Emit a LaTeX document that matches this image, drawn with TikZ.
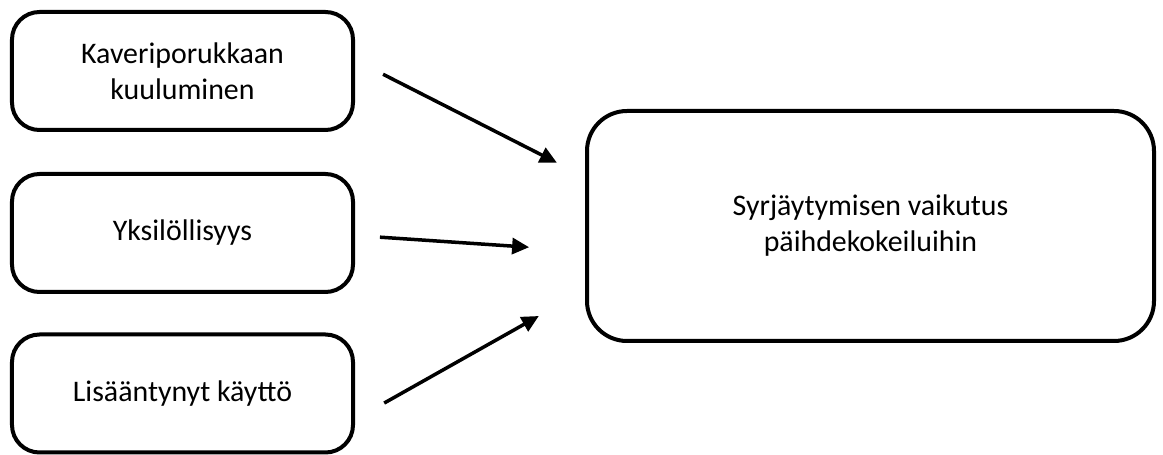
\documentclass[tikz,border=0pt]{standalone}
\usepackage{fontspec}
\setmainfont{Carlito}
\usetikzlibrary{arrows.meta}
\begin{document}
\begin{tikzpicture}[
        box/.style={rectangle, rounded corners=0.55cm, draw, line width=0.08cm, minimum width=6.82cm, minimum height=2.36cm, align=center, font=\fontsize{17}{20.5}\selectfont},
        bigbox/.style={box, rounded corners=0.8cm, minimum width=11.34cm, minimum height=4.6cm},
        arrow/.style={-{Triangle[length=0.34cm, width=0.32cm]}, line width=0.07cm}
    ]
    \useasboundingbox (0,0) rectangle (23.26,-9.1);

    % Factors
    \node[box] (friends) at (3.65,-1.42) {Kaveriporukkaan\\kuuluminen};
    \node[box] (individ) at (3.65,-4.66) {Yksilöllisyys};
    \node[box] (usage) at (3.65,-7.87) {Lisääntynyt käyttö};

    % Outcome
    \node[bigbox] (effect) at (17.41,-4.52) {Syrjäytymisen vaikutus\\päihdekokeiluihin};

    % Arrows
    \draw[arrow, shorten <=0.63cm, shorten >=0.63cm] ([yshift=0.22cm]friends.east) -- ([yshift=0.98cm]effect.west);
    \draw[arrow, shorten <=0.5cm, shorten >=1.12cm] ([yshift=-0.05cm]individ.east) -- ([yshift=-0.5cm]effect.west);
    \draw[arrow, shorten <=0.67cm, shorten >=1.06cm] ([yshift=-0.52cm]usage.east) -- ([yshift=-1.28cm]effect.west);

\end{tikzpicture}
\end{document}
